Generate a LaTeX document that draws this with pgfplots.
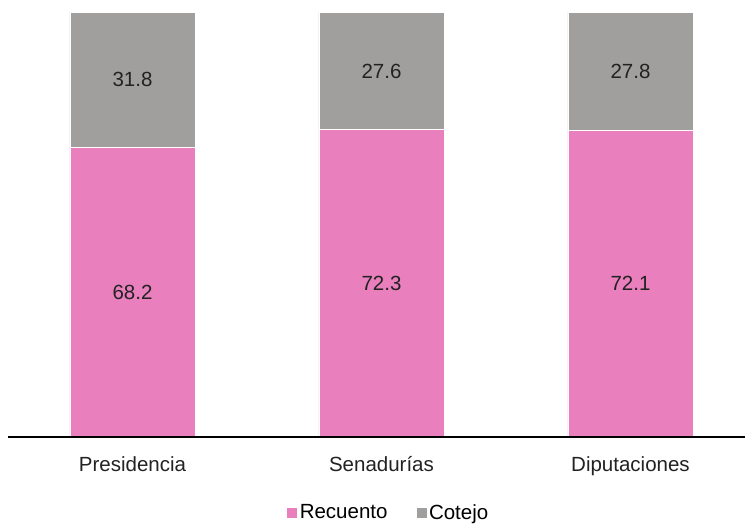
\documentclass[border=0pt]{standalone}
\usepackage{pgfplots}
\pgfplotsset{compat=1.18}
\usepackage{fontspec}
\setmainfont{Liberation Sans}
\definecolor{pinkbar}{HTML}{E97FBD}
\definecolor{graybar}{HTML}{A19E9E}
\definecolor{txt}{HTML}{222222}
\pgfplotsset{
  common/.style={
    at={(0pt,0pt)}, anchor=south west,
    scale only axis,
    width=737pt, height=425pt,
    xmin=-0.5, xmax=2.46,
    ymin=0, ymax=100,
    clip=false,
  }
}
\begin{document}
\begin{tikzpicture}[x=1pt,y=1pt]
\path[use as bounding box] (-8pt,-86pt) rectangle (737pt,437pt);
\begin{axis}[
  common,
  ybar stacked,
  bar width=125pt,
  xtick=data,
  xticklabels={Presidencia,Senadurías,Diputaciones},
  major tick length=0pt,
  hide y axis,
  axis x line*=bottom,
  x axis line style={line width=1.8pt, black},
  axis on top,
  ticklabel style={font=\fontsize{20.5}{24}\selectfont, text=txt},
  xticklabel style={yshift=-16pt},
  legend style={draw=none, fill=none, font=\fontsize{20.5}{24}\selectfont,
    at={(0.516,-0.178)}, anchor=center, legend columns=2,
    /tikz/every even column/.append style={column sep=26pt}},
  legend image code/.code={\fill[#1] (0pt,-5.5pt) rectangle (11pt,5.5pt);},
]
\addplot[fill=pinkbar, draw=white, line width=0.5pt] coordinates {(0,68.2) (1,72.3) (2,72.1)};
\addplot[fill=graybar, draw=white, line width=0.5pt] coordinates {(0,31.8) (1,27.6) (2,27.8)};
\legend{Recuento, Cotejo}
\end{axis}
\begin{axis}[
  common,
  hide axis,
  nodes near coords,
  point meta=explicit symbolic,
  nodes near coords style={font=\fontsize{20.5}{24}\selectfont, text=txt, anchor=center},
]
\addplot[draw=none, mark=none] coordinates {(0,34.1) [68.2] (1,36.15) [72.3] (2,36.05) [72.1]};
\addplot[draw=none, mark=none] coordinates {(0,84.1) [31.8] (1,86.1) [27.6] (2,86.0) [27.8]};
\end{axis}
\end{tikzpicture}
\end{document}
